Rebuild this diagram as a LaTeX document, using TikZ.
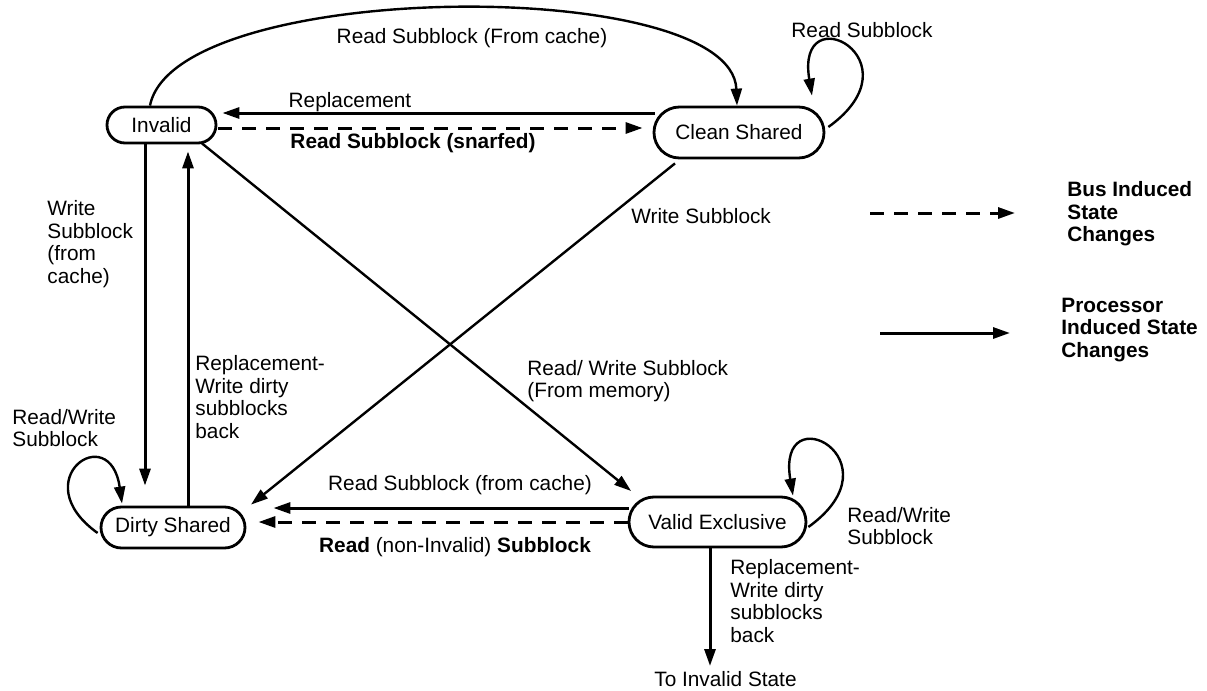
\documentclass[tikz,border=0pt]{standalone}
\usepackage{fontspec}
\setmainfont{Liberation Sans}
\usetikzlibrary{shapes.misc, arrows.meta, calc}
\tikzstyle{state} = [draw, rounded rectangle, line width=1.4pt, inner sep=0pt]
\tikzstyle{arrow} = [draw, line width=1.5pt, -{Triangle[length=8.5pt, width=5.5pt]}]
\tikzstyle{busarrow} = [arrow, dash pattern=on 7pt off 5pt]
\tikzstyle{thin} = [arrow, line width=1.2pt]
\tikzstyle{lbl} = [inner sep=0pt, align=left, anchor=west]
\tikzstyle{tag} = [inner sep=0pt]

\begin{document}
\begin{tikzpicture}[x=0.5pt, y=-0.5pt, font=\fontsize{10.4}{11.3}\selectfont]
    \useasboundingbox (0,0) rectangle (1207,691);

    % States
    \node (inv) [state, minimum width=54.5pt, minimum height=18pt] at (161.5,125) {Invalid};
    \node (cs) [state, minimum width=85pt, minimum height=25.5pt] at (739,132.5) {Clean Shared};
    \node (ds) [state, minimum width=72pt, minimum height=20.5pt] at (173,527.5) {Dirty Shared};
    \node (ve) [state, minimum width=88.5pt, minimum height=25pt] at (717.5,522) {Valid Exclusive};
    \node (toinv) [tag] at (725.5,679) {To Invalid State};
    \coordinate (vedrop) at (710,666);

    % Invalid <-> Clean Shared
    \draw [thin] ($(inv.north)+(-11.5,0)$) .. controls +(25,-127) and +(-5,-131) .. ($(cs.north)+(-2,0)$);
    \draw [arrow] ($(cs.west)+(2,-19.5)$) -- ($(inv.east)+(5,-12)$);
    \draw [busarrow] ($(inv.east)+(1,3)$) -- ($(cs.west)+(-10,-4.5)$);
    \draw [thin] ($(cs.east)+(3,-5.5)$) .. controls +(93,-67) and +(-17,-102) .. ($(cs.north)+(73,-10)$);

    % Invalid <-> Dirty Shared
    \draw [arrow] ($(inv.south)+(-16.5,0)$) -- ($(ds.north)+(-28,-20)$);
    \draw [arrow] ($(ds.north)+(15,0)$) -- ($(inv.south)+(26.5,7)$);
    \draw [thin] ($(ds.west)+(-2,5.5)$) .. controls +(-74,-53) and +(-12,-85) .. ($(ds.north)+(-51,-2)$);

    % Diagonals
    \draw [thin] ($(inv.south)+(40.5,-1)$) -- ($(ve.west)+(3.5,-31)$);
    \draw [thin] ($(cs.south)+(-64,4)$) -- ($(ds.north)+(78,-1)$);

    % Valid Exclusive
    \draw [arrow] ($(ve.west)+(1,-14)$) -- ($(ds.east)+(27,-19.5)$);
    \draw [busarrow] (ve.west) -- ($(ds.east)+(12,-5.5)$);
    \draw [thin] ($(ve.east)+(1,5)$) .. controls +(93,-67) and +(-17,-102) .. ($(ve.north)+(75.5,0)$);
    \draw [arrow] ($(ve.south)+(-7.5,0)$) -- (vedrop);

    % Labels
    \node (l1) [tag] at (472,38) {Read Subblock (From cache)};
    \node (l2) [tag] at (862,30) {Read Subblock};
    \node (l3) [tag] at (350,102) {Replacement};
    \node (l4) [tag] at (413,143) {\bfseries Read Subblock (snarfed)};
    \node (l5) [lbl] at (631,216) {Write Subblock};
    \node (l6) [lbl] at (527,381) {Read/ Write Subblock\\(From memory)};
    \node (l7) [lbl] at (47,244) {Write\\Subblock\\(from\\cache)};
    \node (l8) [lbl] at (195,397) {Replacement-\\Write dirty\\subblocks\\back};
    \node (l9) [lbl] at (12,428) {Read/Write\\Subblock};
    \node (l10) [tag] at (460,485) {Read Subblock (from cache)};
    \node (l11) [tag] at (455,547) {\bfseries Read \mdseries(non-Invalid) \bfseries Subblock};
    \node (l12) [lbl] at (847,526) {Read/Write\\Subblock};
    \node (l13) [lbl] at (730,601) {Replacement-\\Write dirty\\subblocks\\back};

    % Legend
    \coordinate (busfrom) at (870,213);
    \coordinate (busto) at (1015,213);
    \coordinate (procfrom) at (880,333);
    \coordinate (procto) at (1010,333);
    \draw [busarrow] (busfrom) -- (busto);
    \draw [arrow] (procfrom) -- (procto);
    \node (bus) [lbl, font=\fontsize{10.4}{11.3}\selectfont\bfseries] at (1067,214) {Bus Induced\\State\\Changes};
    \node (proc) [lbl, font=\fontsize{10.4}{11.3}\selectfont\bfseries] at (1061,330) {Processor\\Induced State\\Changes};
\end{tikzpicture}
\end{document}
